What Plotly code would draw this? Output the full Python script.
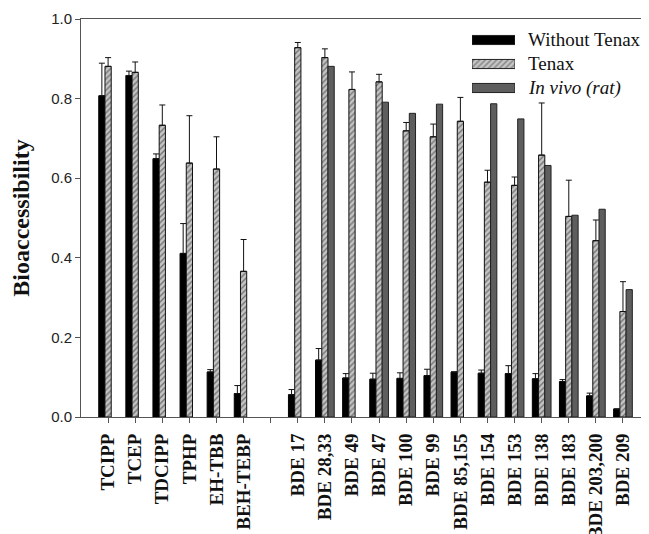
import plotly.graph_objects as go

# ---- data ----
categories = ["TCIPP", "TCEP", "TDCIPP", "TPHP", "EH-TBB", "BEH-TEBP",
              "BDE 17", "BDE 28,33", "BDE 49", "BDE 47", "BDE 100", "BDE 99",
              "BDE 85,155", "BDE 154", "BDE 153", "BDE 138", "BDE 183",
              "BDE 203,200", "BDE 209"]
without_tenax = [0.807, 0.858, 0.649, 0.411, 0.113, 0.059,
                 0.056, 0.143, 0.098, 0.095, 0.097, 0.104,
                 0.113, 0.110, 0.109, 0.096, 0.089, 0.053, 0.020]
without_tenax_err = [0.082, 0.011, 0.012, 0.075, 0.006, 0.020,
                     0.013, 0.029, 0.011, 0.015, 0.014, 0.016,
                     0.0, 0.008, 0.020, 0.013, 0.005, 0.007, 0.0]
tenax = [0.881, 0.866, 0.733, 0.638, 0.623, 0.366,
         0.928, 0.903, 0.823, 0.842, 0.719, 0.704,
         0.743, 0.590, 0.582, 0.658, 0.504, 0.443, 0.265]
tenax_err = [0.022, 0.026, 0.051, 0.119, 0.081, 0.080,
             0.013, 0.022, 0.044, 0.019, 0.021, 0.032,
             0.060, 0.030, 0.021, 0.131, 0.091, 0.052, 0.075]
in_vivo = [None, None, None, None, None, None,
           None, 0.881, None, 0.791, 0.763, 0.786,
           None, 0.787, 0.749, 0.632, 0.507, 0.522, 0.320]
series_names = ["Without Tenax", "Tenax", "<i>In vivo (rat)</i>"]
y_ticks = [0.0, 0.2, 0.4, 0.6, 0.8, 1.0]

# positions: a blank slot separates the two compound groups
n_first = 6
positions = [i if i < n_first else i + 1 for i in range(len(categories))]
tickvals = positions[:n_first] + [n_first] + positions[n_first:]
ticktext = categories[:n_first] + [""] + categories[n_first:]

BLACK = "#000000"
TENAX_BG = "#c4c4c4"
VIVO = "#5e5e5e"
AXIS = "#555555"
SERIF = "Liberation Serif, Times New Roman, Times, serif"
SANS = "Liberation Sans, Arial, Helvetica, sans-serif"

fig = go.Figure()

fig.add_trace(go.Bar(
    x=positions, y=without_tenax, name=series_names[0],
    marker=dict(color=BLACK, line=dict(color=BLACK, width=1)),
    error_y=dict(type="data", array=without_tenax_err, symmetric=False,
                 arrayminus=[0] * len(categories), color="#111", thickness=1, width=3),
    showlegend=False))
fig.add_trace(go.Bar(
    x=positions, y=tenax, name=series_names[1],
    marker=dict(color=TENAX_BG, line=dict(color="#111", width=1),
                pattern=dict(shape="/", fgcolor="#222", size=4, solidity=0.35)),
    error_y=dict(type="data", array=tenax_err, symmetric=False,
                 arrayminus=[0] * len(categories), color="#111", thickness=1, width=3),
    showlegend=False))
fig.add_trace(go.Bar(
    x=positions, y=in_vivo, name=series_names[2],
    marker=dict(color=VIVO, line=dict(color="#222", width=1)),
    showlegend=False))

# legend samples drawn on a small auxiliary axis (wide rectangles like the original)
fig.add_trace(go.Bar(
    x=[1, 1, 1], y=[0, 1, 2], orientation="h", xaxis="x2", yaxis="y2",
    width=0.38,
    marker=dict(color=[BLACK, TENAX_BG, VIVO],
                line=dict(color="#222", width=1),
                pattern=dict(shape=["", "/", ""], fgcolor="#222", size=4, solidity=0.35)),
    showlegend=False, hoverinfo="skip"))

# the page puts the figure 8 px in from the top-left corner
OFF = 8
W, H = 649 - OFF, 534 - OFF
L, R, T, B = 81 - OFF, 0, 19 - OFF, 534 - 417
pw, ph = W - L - R, H - T - B

def px_x(p):
    return (p - OFF - L) / pw

def px_y(p):
    return (H - B - (p - OFF)) / ph

row_px = [40, 64, 88]
for name, rp in zip(series_names, row_px):
    fig.add_annotation(x=px_x(526), y=px_y(rp), xref="paper", yref="paper",
                       text=name, showarrow=False, xanchor="left", yanchor="middle",
                       font=dict(family=SERIF, size=19, color="#111"))

y2_top, y2_bot = row_px[0] - 12, row_px[2] + 12

fig.update_layout(
    width=W, height=H,
    margin=dict(l=L, r=R, t=T, b=B, autoexpand=False),
    paper_bgcolor="white", plot_bgcolor="white",
    font=dict(family=SERIF),
    barmode="group", bargap=0.31, bargroupgap=0,
    xaxis=dict(range=[-1, 19.96], tickmode="array", tickvals=tickvals, ticktext=ticktext,
               tickangle=-90, ticks="outside", ticklen=5, tickcolor=AXIS,
               ticklabelstandoff=3,
               showline=True, linecolor=AXIS, linewidth=1, mirror=True,
               showgrid=False, zeroline=False, automargin=False,
               tickfont=dict(family=SERIF, size=19, color="#111", weight="bold")),
    yaxis=dict(range=[0, 1.0], tickmode="array", tickvals=y_ticks, tickformat=".1f",
               ticks="outside", ticklen=5, tickcolor=AXIS,
               showline=True, linecolor=AXIS, linewidth=1,
               showgrid=False, zeroline=False, automargin=False,
               tickfont=dict(family=SANS, size=15, color="#222"),
               title=dict(text="<b>Bioaccessibility</b>", standoff=16,
                          font=dict(family=SERIF, size=24, color="#111"))),
    xaxis2=dict(domain=[px_x(472), px_x(515)], range=[0, 1], anchor="y2",
                visible=False, fixedrange=True),
    yaxis2=dict(domain=[px_y(y2_bot), px_y(y2_top)],
                range=[2 + 12 / 24, -12 / 24], anchor="x2",
                visible=False, fixedrange=True),
)

fig.write_html("out.html")
